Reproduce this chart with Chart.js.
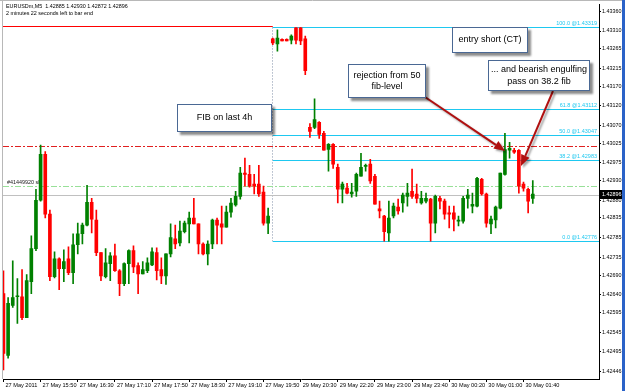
<!DOCTYPE html>
<html>
<head>
<meta charset="utf-8">
<script src="https://cdn.jsdelivr.net/npm/chart.js@4.4.1/dist/chart.umd.min.js"></script>
<style>
  html, body { margin: 0; padding: 0; background: #fff; }
  canvas { display: block; }
</style>
</head>
<body>
<canvas id="chart" width="625" height="391"></canvas>
<script>
// EURUSDm M5 candles (oldest first)
const opens = [
  1.42643,1.42486,1.42613,1.42635,1.42635,1.42582,1.42673,1.42757,1.42880,1.42997,
  1.42845,1.42686,1.42731,1.42706,1.42731,1.42696,1.42767,1.42795,1.42817,1.42875,
  1.42830,1.42747,1.42686,1.42719,1.42739,1.42701,1.42668,1.42719,1.42752,1.42714,
  1.42693,1.42701,1.42716,1.42747,1.42704,1.42688,1.42744,1.42782,1.42772,1.42800,
  1.42820,1.42835,1.42820,1.42769,1.42744,1.42769,1.42830,1.42820,1.42812,1.42850,
  1.42868,1.42890,1.42949,1.42946,1.42921,1.42921,1.42901,1.42822,1.43290,1.43277,
  1.43289,1.43289,1.43287,1.43318,1.43318,1.43290,1.43065,1.43065,1.43078,1.43050,
  1.43009,1.43022,1.42964,1.42908,1.42911,1.42896,1.42903,1.42941,1.42966,1.42972,
  1.42941,1.42858,1.42840,1.42797,1.42840,1.42863,1.42873,1.42890,1.42903,1.42896,
  1.42873,1.42878,1.42883,1.42822,1.42885,1.42878,1.42848,1.42848,1.42827,1.42827,
  1.42885,1.42865,1.42865,1.42933,1.42896,1.42820,1.42830,1.42860,1.42946,1.43007,
  1.43007,1.43007,1.42921,1.42908,1.42885
];
const highs = [
  1.42701,1.42633,1.42726,1.42681,1.42704,1.42691,1.42790,1.42908,1.43020,1.43004,
  1.42855,1.42749,1.42734,1.42754,1.42762,1.42795,1.42822,1.42822,1.42918,1.42885,
  1.42855,1.42747,1.42757,1.42747,1.42769,1.42704,1.42721,1.42754,1.42764,1.42721,
  1.42724,1.42734,1.42759,1.42759,1.42734,1.42744,1.42820,1.42817,1.42827,1.42827,
  1.42850,1.42885,1.42820,1.42772,1.42777,1.42832,1.42835,1.42865,1.42865,1.42885,
  1.42903,1.42964,1.42987,1.42969,1.42946,1.42969,1.42916,1.42860,1.43292,1.43313,
  1.43290,1.43290,1.43300,1.43319,1.43319,1.43297,1.43075,1.43138,1.43080,1.43055,
  1.43024,1.43024,1.42972,1.42926,1.42923,1.42923,1.42949,1.42999,1.42972,1.42984,
  1.42946,1.42878,1.42842,1.42878,1.42873,1.42883,1.42898,1.42923,1.42959,1.42921,
  1.42903,1.42898,1.42885,1.42893,1.42890,1.42883,1.42865,1.42865,1.42840,1.42890,
  1.42908,1.42898,1.42938,1.42936,1.42898,1.42840,1.42865,1.42949,1.43050,1.43027,
  1.43012,1.43009,1.42926,1.42911,1.42930
];
const lows = [
  1.42449,1.42479,1.42608,1.42567,1.42577,1.42582,1.42643,1.42752,1.42878,1.42835,
  1.42676,1.42683,1.42653,1.42673,1.42691,1.42668,1.42744,1.42769,1.42815,1.42797,
  1.42739,1.42676,1.42683,1.42676,1.42699,1.42638,1.42663,1.42668,1.42696,1.42643,
  1.42693,1.42696,1.42714,1.42678,1.42668,1.42666,1.42736,1.42757,1.42764,1.42797,
  1.42772,1.42820,1.42744,1.42741,1.42716,1.42757,1.42769,1.42769,1.42812,1.42837,
  1.42865,1.42883,1.42916,1.42913,1.42896,1.42890,1.42817,1.42795,1.43275,1.43259,
  1.43285,1.43285,1.43277,1.43277,1.43275,1.43199,1.43040,1.43062,1.43037,1.43007,
  1.42954,1.42961,1.42873,1.42873,1.42896,1.42888,1.42890,1.42941,1.42954,1.42923,
  1.42870,1.42835,1.42776,1.42776,1.42835,1.42845,1.42850,1.42865,1.42885,1.42873,
  1.42870,1.42873,1.42776,1.42797,1.42858,1.42832,1.42810,1.42802,1.42815,1.42822,
  1.42860,1.42848,1.42863,1.42893,1.42812,1.42795,1.42810,1.42858,1.42944,1.42987,
  1.42999,1.42898,1.42903,1.42848,1.42872
];
const closes = [
  1.42491,1.42618,1.42633,1.42635,1.42582,1.42676,1.42757,1.42880,1.42997,1.42845,
  1.42686,1.42731,1.42706,1.42724,1.42696,1.42767,1.42795,1.42817,1.42875,1.42832,
  1.42747,1.42688,1.42721,1.42739,1.42701,1.42668,1.42719,1.42752,1.42711,1.42693,
  1.42704,1.42721,1.42749,1.42701,1.42688,1.42744,1.42785,1.42769,1.42802,1.42822,
  1.42835,1.42820,1.42769,1.42744,1.42769,1.42830,1.42817,1.42812,1.42850,1.42873,
  1.42890,1.42949,1.42946,1.42916,1.42916,1.42896,1.42822,1.42840,1.43280,1.43292,
  1.43285,1.43285,1.43297,1.43287,1.43285,1.43209,1.43055,1.43085,1.43047,1.43007,
  1.43022,1.42972,1.42908,1.42921,1.42898,1.42901,1.42946,1.42964,1.42966,1.42929,
  1.42870,1.42853,1.42800,1.42835,1.42865,1.42853,1.42893,1.42898,1.42890,1.42885,
  1.42885,1.42885,1.42822,1.42890,1.42878,1.42845,1.42845,1.42832,1.42830,1.42885,
  1.42893,1.42870,1.42936,1.42896,1.42822,1.42832,1.42863,1.42949,1.43009,1.43012,
  1.43002,1.42916,1.42911,1.42878,1.42896
];

// time axis labels (bar index -> text)
const xTickIdx = [0, 8, 16, 24, 32, 40, 48, 56, 64, 72, 80, 88, 96, 104, 112];
const xTickText = ['27 May 2011', '27 May 15:50', '27 May 16:30', '27 May 17:10', '27 May 17:50',
  '27 May 18:30', '27 May 19:10', '27 May 19:50', '29 May 20:30', '29 May 22:20', '29 May 23:00',
  '29 May 23:40', '30 May 00:20', '30 May 01:00', '30 May 01:40'];

// price axis labels
const yTicks = [1.43360, 1.43310, 1.43265, 1.43215, 1.43170, 1.43120, 1.43070, 1.43025, 1.42975,
  1.42930, 1.42880, 1.42835, 1.42785, 1.42735, 1.42690, 1.42640, 1.42595, 1.42545, 1.42495, 1.42446];

// fibonacci retracement drawn from bar 58 onwards
const fibStart = 58;
const fibNames = ['100.0', '61.8', '50.0', '38.2', '0.0'];
const fibPrices = [1.43319, 1.43112, 1.43047, 1.42983, 1.42776];

const orderPrice = 1.43017;   // red dash-dot
const slPrice = 1.42916;      // green dash-dot
const slText = '#41449920 sl';

const notes = [
  { box: [177, 104, 95, 28], lines: ['FIB on last 4h'] },
  { box: [348, 64, 78, 34], lines: ['rejection from 50', 'fib-level'] },
  { box: [452, 27, 76, 26], lines: ['entry short (CT)'] },
  { box: [488, 60, 102, 31], lines: ['... and bearish engulfing', 'pass on 38.2 fib'] }
];
const arrows = [[425, 97, 505, 151], [553, 91, 521, 166]];

const FONT = "'Liberation Sans', Arial, sans-serif";
const upColor = '#008000';
const downColor = '#ff0000';
const last = closes.length - 1;

const candleColor = (c) => closes[c.dataIndex] >= opens[c.dataIndex] ? upColor : downColor;

function hline(ctx, x1, x2, y, color, dash) {
    ctx.strokeStyle = color;
    ctx.lineWidth = 1;
    ctx.setLineDash(dash || []);
    ctx.beginPath();
    ctx.moveTo(x1, Math.round(y) + 0.5);
    ctx.lineTo(x2, Math.round(y) + 0.5);
    ctx.stroke();
    ctx.setLineDash([]);
}

function drawArrow(ctx, x1, y1, x2, y2) {
    const a = Math.atan2(y2 - y1, x2 - x1);
    const len = 11, half = 4.5;
    const bx = x2 - len * Math.cos(a), by = y2 - len * Math.sin(a);
    ctx.beginPath();
    ctx.moveTo(x1, y1);
    ctx.lineTo(bx, by);
    ctx.stroke();
    ctx.beginPath();
    ctx.moveTo(x2, y2);
    ctx.lineTo(bx + half * Math.sin(a), by - half * Math.cos(a));
    ctx.lineTo(bx - half * Math.sin(a), by + half * Math.cos(a));
    ctx.closePath();
    ctx.fill();
}

const overlay = {
    id: 'overlay',
    beforeDatasetsDraw(chart) {
        const { ctx, chartArea: a, scales: { x, y } } = chart;
        ctx.save();
        ctx.beginPath();
        ctx.rect(a.left, a.top, a.right - a.left, a.bottom - a.top);
        ctx.clip();
        const xf = x.getPixelForValue(fibStart);

        // red high line left of the fib
        hline(ctx, a.left, xf, y.getPixelForValue(fibPrices[0]) - 1, '#ff0000');

        // fib levels
        ctx.font = '5.5px ' + FONT;
        ctx.textAlign = 'right';
        ctx.textBaseline = 'bottom';
        fibPrices.forEach((p, i) => {
            const py = y.getPixelForValue(p);
            hline(ctx, xf, a.right, py, '#1ec8f0');
            ctx.fillStyle = '#1ec8f0';
            ctx.fillText(fibNames[i] + ' @' + p.toFixed(5), a.right - 2, Math.round(py) - 0.5);
        });

        // fib vertical
        ctx.strokeStyle = '#8090a8';
        ctx.setLineDash([1, 2]);
        ctx.beginPath();
        ctx.moveTo(Math.round(xf) - 0.5, y.getPixelForValue(fibPrices[0]));
        ctx.lineTo(Math.round(xf) - 0.5, y.getPixelForValue(fibPrices[4]));
        ctx.stroke();
        ctx.setLineDash([]);

        // order lines
        hline(ctx, a.left, a.right, y.getPixelForValue(orderPrice), '#e02020', [6, 2, 2, 2]);
        hline(ctx, a.left, a.right, y.getPixelForValue(slPrice), '#98e098', [6, 2, 2, 2]);
        ctx.fillStyle = '#202020';
        ctx.textAlign = 'left';
        ctx.font = '5.4px ' + FONT;
        ctx.fillText(slText, a.left + 4, Math.round(y.getPixelForValue(slPrice)) - 1);

        // bid line
        hline(ctx, a.left, a.right, y.getPixelForValue(closes[last]) + 1, '#c0c0c0');
        ctx.restore();
    },
    afterDatasetsDraw(chart) {
        const { ctx } = chart;
        ctx.save();

        // arrows
        ctx.shadowColor = 'rgba(0,0,0,0.35)';
        ctx.shadowBlur = 2;
        ctx.shadowOffsetX = 2;
        ctx.shadowOffsetY = 2;
        ctx.strokeStyle = '#b01010';
        ctx.fillStyle = '#b01010';
        ctx.lineWidth = 2;
        arrows.forEach(r => drawArrow(ctx, r[0], r[1], r[2], r[3]));

        // text boxes
        notes.forEach(n => {
            const [bx, by, bw, bh] = n.box;
            ctx.shadowColor = 'rgba(0,0,0,0.45)';
            ctx.shadowBlur = 2;
            ctx.shadowOffsetX = 3;
            ctx.shadowOffsetY = 3;
            ctx.fillStyle = '#ffffff';
            ctx.fillRect(bx, by, bw, bh);
            ctx.shadowColor = 'transparent';
            ctx.strokeStyle = '#4a6894';
            ctx.lineWidth = 1;
            ctx.strokeRect(bx + 0.5, by + 0.5, bw - 1, bh - 1);
            ctx.fillStyle = '#000';
            ctx.font = '9px ' + FONT;
            ctx.textAlign = 'center';
            ctx.textBaseline = 'middle';
            const lh = 11.5;
            const cy = by + bh / 2 - (n.lines.length - 1) * lh / 2;
            n.lines.forEach((t, i) => ctx.fillText(t, bx + bw / 2, cy + i * lh));
        });
        ctx.restore();
    },
    afterDraw(chart) {
        const { ctx, chartArea: a, scales: { y } } = chart;
        ctx.save();
        // header
        ctx.fillStyle = '#000';
        ctx.font = '5.4px ' + FONT;
        ctx.textAlign = 'left';
        ctx.textBaseline = 'middle';
        const ohlc = [opens[last], highs[last], lows[last], closes[last]].map(v => v.toFixed(5)).join(' ');
        ctx.fillText('EURUSDm,M5  ' + ohlc, 6, 6.5);
        ctx.fillText('2 minutes 22 seconds left to bar end', 6, 13.5);

        // current price tag
        const py = Math.round(y.getPixelForValue(closes[last]));
        ctx.fillStyle = '#000';
        ctx.fillRect(a.right + 1, py - 4, 22, 9);
        ctx.fillStyle = '#fff';
        ctx.fillText(closes[last].toFixed(5), a.right + 3, py + 0.5);

        // frame
        ctx.strokeStyle = '#b8b8b8';
        ctx.lineWidth = 1;
        ctx.beginPath();
        ctx.moveTo(2.5, 0);
        ctx.lineTo(2.5, a.bottom);
        ctx.moveTo(0, 0.5);
        ctx.lineTo(625, 0.5);
        ctx.stroke();
        ctx.fillStyle = '#2a62c8';
        ctx.fillRect(622, 0, 3, 391);
        ctx.restore();
    }
};

new Chart(document.getElementById('chart'), {
    type: 'bar',
    data: {
        datasets: [
            {
                label: 'body',
                data: opens.map((o, i) => ({ x: i, y: [o, closes[i]] })),
                backgroundColor: candleColor,
                barThickness: 3,
                minBarLength: 1,
                grouped: false,
                borderWidth: 0
            },
            {
                label: 'wick',
                data: lows.map((l, i) => ({ x: i, y: [l, highs[i]] })),
                backgroundColor: candleColor,
                barThickness: 1,
                grouped: false,
                borderWidth: 0
            }
        ]
    },
    options: {
        responsive: false,
        animation: false,
        devicePixelRatio: 1,
        layout: { padding: { left: 3, top: 2, right: 0, bottom: 0 } },
        plugins: {
            legend: { display: false },
            tooltip: { enabled: false }
        },
        scales: {
            x: {
                type: 'linear',
                min: -0.1,
                max: 128.26,
                offset: false,
                afterBuildTicks: (scale) => { scale.ticks = xTickIdx.map(v => ({ value: v })); },
                afterFit: (scale) => { scale.height = 12; },
                grid: { offset: false, drawOnChartArea: false, tickLength: 3, color: '#000' },
                border: { display: true, color: '#000' },
                ticks: {
                    autoSkip: false,
                    maxRotation: 0,
                    align: 'start',
                    labelOffset: 2,
                    padding: 0,
                    color: '#000',
                    font: { family: FONT, size: 5.6 },
                    callback: (value) => xTickText[xTickIdx.indexOf(value)]
                }
            },
            y: {
                position: 'right',
                min: 1.42426,
                max: 1.43378,
                afterBuildTicks: (scale) => { scale.ticks = yTicks.map(v => ({ value: v })); },
                afterFit: (scale) => { scale.width = 26; },
                grid: { drawOnChartArea: false, tickLength: 2, color: '#000' },
                border: { display: true, color: '#000' },
                ticks: {
                    autoSkip: false,
                    padding: 1,
                    color: '#000',
                    font: { family: FONT, size: 5.4 },
                    callback: (value) => value.toFixed(5)
                }
            }
        }
    },
    plugins: [overlay]
});
</script>
</body>
</html>
